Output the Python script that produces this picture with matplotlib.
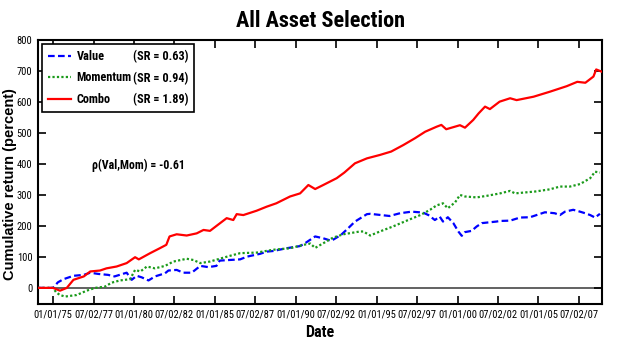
import matplotlib
matplotlib.use("Agg")
import matplotlib.pyplot as plt
from matplotlib import font_manager
from matplotlib.lines import Line2D

# ---------------- data ----------------
combo_dates = [1974.07, 1975.0, 1975.43, 1975.85, 1976.26, 1976.9, 1977.3, 1977.9, 1978.3, 1978.93,
               1979.55, 1980.07, 1980.3, 1981.0, 1981.6, 1982.0, 1982.2, 1982.64, 1983.26, 1983.88,
               1984.3, 1984.7, 1985.1, 1985.73, 1986.14, 1986.35, 1986.76, 1987.58, 1988.2, 1988.8,
               1989.65, 1990.27, 1990.78, 1991.2, 1991.7, 1992.53, 1993.0, 1993.66, 1994.4, 1995.2,
               1995.9, 1996.65, 1997.37, 1998.0, 1998.7, 1999.0, 1999.3, 2000.15, 2000.46, 2000.97,
               2001.3, 2001.7, 2002.0, 2002.6, 2003.25, 2003.65, 2004.7, 2005.7, 2006.75, 2007.4,
               2007.9, 2008.4, 2008.57, 2008.9]
combo_pct = [0, 0, -9, 0, 26, 37, 53, 56, 63, 69,
             80, 99, 92, 112, 128, 139, 166, 173, 169, 176,
             187, 184, 200, 225, 219, 238, 235, 249, 262, 273,
             295, 305, 332, 319, 332, 354, 372, 402, 418, 429,
             440, 461, 483, 504, 520, 526, 512, 525, 517, 542,
             563, 585, 577, 601, 612, 606, 617, 633, 651, 665,
             662, 682, 705, 698]

value_dates = [1974.07, 1975.0, 1975.3, 1975.64, 1976.26, 1976.9, 1977.3, 1977.8, 1978.4, 1978.8,
               1979.55, 1979.86, 1980.17, 1980.48, 1980.9, 1981.3, 1981.92, 1982.13, 1982.64, 1983.05,
               1983.57, 1984.1, 1984.6, 1985.1, 1985.3, 1985.9, 1986.56, 1987.0, 1987.8, 1988.2,
               1988.6, 1989.44, 1990.27, 1990.57, 1991.2, 1991.7, 1992.2, 1992.8, 1993.25, 1993.66,
               1994.4, 1994.6, 1995.8, 1996.45, 1997.17, 1997.87, 1998.2, 1998.6, 1998.9, 1999.1,
               1999.4, 1999.74, 2000.05, 2000.26, 2000.46, 2000.87, 2001.18, 2001.5, 2002.4, 2002.63,
               2003.25, 2003.86, 2004.48, 2005.4, 2006.0, 2006.33, 2006.64, 2007.15, 2007.57, 2007.88,
               2008.2, 2008.5, 2008.8]
value_pct = [0, 0, 18, 28, 39, 42, 49, 45, 42, 37,
             49, 26, 39, 34, 24, 37, 47, 56, 58, 49,
             49, 71, 67, 71, 88, 90, 92, 101, 110, 117,
             119, 128, 135, 144, 166, 160, 152, 171, 193, 214,
             238, 239, 232, 241, 246, 243, 235, 219, 230, 214,
             228, 209, 182, 168, 180, 184, 198, 209, 214, 216,
             217, 227, 228, 244, 241, 235, 246, 252, 246, 241,
             235, 227, 239]

momentum_dates = [1974.07, 1975.0, 1975.2, 1975.43, 1975.74, 1976.46, 1977.08, 1977.6, 1978.2, 1978.63,
                  1979.14, 1979.76, 1980.07, 1980.4, 1980.8, 1981.3, 1981.92, 1982.44, 1983.26, 1983.67,
                  1984.1, 1984.7, 1985.9, 1986.56, 1987.6, 1988.6, 1989.65, 1990.48, 1990.9, 1991.2,
                  1991.7, 1992.3, 1992.94, 1993.97, 1994.18, 1994.6, 1995.2, 1996.0, 1996.86, 1997.7,
                  1998.3, 1998.7, 1999.1, 1999.4, 1999.85, 2000.15, 2000.46, 2001.18, 2001.8, 2002.63,
                  2003.25, 2003.55, 2004.8, 2005.7, 2006.33, 2006.95, 2007.57, 2008.2, 2008.5, 2008.8]
momentum_pct = [0, 0, -15, -23, -28, -23, -9, 0, 4, 17,
                24, 28, 58, 53, 69, 63, 71, 85, 94, 90,
                80, 85, 103, 112, 114, 123, 128, 139, 143, 129,
                144, 162, 173, 182, 182, 169, 182, 198, 217, 235,
                252, 266, 273, 257, 276, 300, 295, 292, 297, 305,
                313, 305, 311, 318, 327, 327, 335, 354, 375, 372]

series_names = ["Value", "Momentum", "Combo"]
sharpe_labels = ["(SR = 0.63)", "(SR = 0.94)", "(SR = 1.89)"]
corr_text = "\u03c1(Val,Mom) = -0.61"

tick_dates = [1975 + 2.5 * i for i in range(14)]
tick_labels = ["01/01/75", "07/02/77", "01/01/80", "07/02/82", "01/01/85", "07/02/87",
               "01/01/90", "07/02/92", "01/01/95", "07/02/97", "01/01/00", "07/02/02",
               "01/01/05", "07/02/07"]
y_ticks = [0, 100, 200, 300, 400, 500, 600, 700, 800]

# ---------------- fonts: pick a narrow face if one exists ----------------
ttf = font_manager.fontManager.ttflist
names = {f.name for f in ttf}
narrow_family, narrow_stretch = None, "normal"
for cand in ["Liberation Sans Narrow", "Arial Narrow", "Roboto Condensed",
             "Open Sans Condensed", "Noto Sans Condensed"]:
    if cand in names:
        narrow_family = cand
        break
if narrow_family is None:
    for f in ttf:
        if ("Narrow" in f.name or "Condensed" in f.name) and "Mono" not in f.name:
            narrow_family = f.name
            break
if narrow_family is None:
    for f in ttf:
        if f.name in ("DejaVu Sans", "Open Sans", "Noto Sans", "Roboto") and \
                str(f.stretch) in ("condensed", "semi-condensed", "75", "87.5", "62.5"):
            narrow_family, narrow_stretch = f.name, "condensed"
            break
scale = 1.0
if narrow_family is None:
    narrow_family = "Liberation Sans"
    scale = 0.82

fam = [narrow_family, "DejaVu Sans"]
plt.rcParams["font.family"] = fam
plt.rcParams["font.stretch"] = narrow_stretch

# ---------------- plot ----------------
fig = plt.figure(figsize=(6.2, 3.46), dpi=100)
ax = fig.add_axes([0.0613, 0.1214, 0.9097, 0.763])

ax.axhline(0, color="#555555", lw=1.3, zorder=1)
l1, = ax.plot(value_dates, value_pct, color="#0000ff", lw=1.6, ls=(0, (3, 1.5)), zorder=3)
l2, = ax.plot(momentum_dates, momentum_pct, color="#1a9a1a", lw=1.6, ls=(0, (1, 1)), zorder=3)
l3, = ax.plot(combo_dates, combo_pct, color="#ff0000", lw=1.6, zorder=3)

ax.set_xlim(1974.07, 2008.93)
ax.set_ylim(-52, 800)
ax.set_xticks(tick_dates)
ax.set_xticklabels(tick_labels)
ax.set_yticks(y_ticks)
ax.tick_params(direction="in", top=True, right=True, length=6, width=1.2,
               labelsize=7.6 * scale, pad=4)
for sp in ax.spines.values():
    sp.set_linewidth(1.5)

ax.set_title("All Asset Selection", fontsize=16 * scale, fontweight="bold", pad=9)
ax.set_xlabel("Date", fontsize=11.5 * scale, fontweight="bold", labelpad=4)
ax.set_ylabel("Cumulative return (percent)", fontsize=10.5, fontweight="bold",
              family=["Liberation Sans", "DejaVu Sans"], fontstretch="normal")
ax.yaxis.set_label_coords(-0.037, 0.455)

ax.text(1977.4, 397, corr_text, fontsize=8.6 * scale, fontweight="bold", ha="left", va="center")

blank = [Line2D([], [], ls="none") for _ in range(3)]
hl, tp = 1.9, 0.45
leg = ax.legend([l1, l2, l3] + blank, series_names + sharpe_labels, ncol=2,
                loc="upper left", bbox_to_anchor=(0.0, 1.0), borderaxespad=0.35,
                handlelength=hl, handletextpad=tp, columnspacing=-(hl + tp) + 0.15,
                fancybox=False, edgecolor="black", framealpha=1,
                prop={"weight": "bold", "size": 8.8 * scale, "family": fam,
                      "stretch": narrow_stretch},
                labelspacing=0.7, borderpad=0.45)
leg.get_frame().set_linewidth(1.2)

fig.savefig("out.png", dpi=100)
